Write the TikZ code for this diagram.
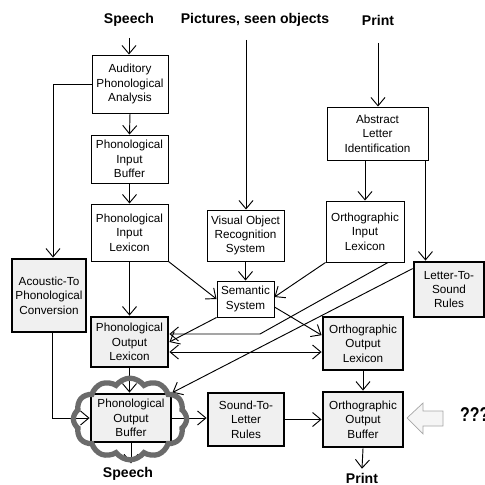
\documentclass[tikz,border=0pt]{standalone}
\usepackage{fontspec}
\setmainfont{Liberation Sans}
\usetikzlibrary{arrows.meta,shapes.symbols}

\tikzset{
  box/.style={draw, line width=0.8pt, fill=white, align=center, inner sep=1pt,
    font=\fontsize{10}{12.3}\selectfont},
  boldbox/.style={box, line width=2.4pt, fill=gray!12},
  lbl/.style={font=\bfseries\fontsize{12}{14}\selectfont},
  arr/.style={line width=0.8pt, -{Straight Barb[length=2.5mm,width=4.2mm]}},
  dblarr/.style={line width=0.8pt, {Straight Barb[length=2.5mm,width=4.2mm]}-{Straight Barb[length=2.5mm,width=4.2mm]}},
}

\begin{document}
\begin{tikzpicture}[x=0.03cm,y=-0.03cm]
    \useasboundingbox (0,0) rectangle (485,485);
    \clip (0,0) rectangle (485,485);
    % heading, cut off at the top edge
    \node[font=\bfseries\fontsize{36}{40}\selectfont, anchor=base west, inner sep=0] (head) at (381,-9) {g\hspace{2.04cm}p};
    % inputs
    \node[lbl] (sp1) at (129,20) {Speech};
    \node[lbl] (pic) at (255,20) {Pictures, seen objects};
    \node[lbl] (pr1) at (378,20) {Print};
    \coordinate (sp1s) at (129,38);
    \coordinate (pics) at (246,40);
    \coordinate (pr1s) at (378,43);
    % boxes
    \node[box, minimum width=2.28cm, minimum height=1.74cm] (aud) at (130,84) {Auditory\\Phonological\\Analysis};
    \node[box, minimum width=2.31cm, minimum height=1.44cm] (pib) at (129.5,159) {Phonological\\Input\\Buffer};
    \node[box, minimum width=2.31cm, minimum height=1.71cm] (pil) at (129.5,232.5) {Phonological\\Input\\Lexicon};
    \node[box, minimum width=2.31cm, minimum height=1.53cm] (vor) at (245.5,235.5) {Visual Object\\Recognition\\System};
    \node[box, minimum width=2.34cm, minimum height=1.83cm] (oil) at (365,231.5) {Orthographic\\Input\\Lexicon};
    \node[box, minimum width=3.03cm, minimum height=1.59cm] (ali) at (377.5,133.5) {Abstract\\Letter\\Identification};
    \node[box, minimum width=1.71cm, minimum height=1.08cm] (sem) at (245.5,299) {Semantic\\System};
    \node[boldbox, minimum width=2.22cm, minimum height=2.19cm] (acp) at (49,295.5) {Acoustic-To\\Phonological\\Conversion};
    \node[boldbox, minimum width=2.1cm, minimum height=1.65cm] (lts) at (449,289.5) {Letter-To-\\Sound\\Rules};
    \node[boldbox, minimum width=2.31cm, minimum height=1.5cm] (pol) at (129.5,342) {Phonological\\Output\\Lexicon};
    \node[boldbox, minimum width=2.4cm, minimum height=1.59cm] (ool) at (363,343.5) {Orthographic\\Output\\Lexicon};
    \node[boldbox, minimum width=2.4cm, minimum height=1.44cm] (pob) at (131,418) {Phonological\\Output\\Buffer};
    \node[boldbox, minimum width=2.28cm, minimum height=1.59cm] (stl) at (246,419.5) {Sound-To-\\Letter\\Rules};
    \node[boldbox, minimum width=2.4cm, minimum height=1.65cm] (oob) at (363,419.5) {Orthographic\\Output\\Buffer};
    % outputs
    \node[lbl] (sp2) at (128,474) {Speech};
    \node[lbl] (pr2) at (362,478) {Print};
    % connectors
    \draw[arr] (sp1s) -- (sp1s |- aud.north);
    \draw[arr] (pics) -- (pics |- vor.north);
    \draw[arr] (pr1s) -- (pr1s |- ali.north);
    \draw[arr] (aud.south) -- (pib.north);
    \draw[arr] (pib.south) -- (pil.north);
    \draw[arr] (pil.south) -- (pil.south |- pol.north);
    \draw[arr] (vor.south) -- (sem.north);
    \draw[arr] (ali.south -| oil.north) -- (oil.north);
    \draw[arr] ([xshift=-0.09cm]ali.south east) -- ([xshift=-0.09cm]ali.south east |- lts.north);
    \draw[arr] (aud.west) -| ([xshift=0.12cm]acp.north);
    \draw[arr] ([xshift=0.09cm]acp.south) |- (pob.west);
    \draw[arr] (pil.south east) -- (sem.west);
    \draw[arr] (oil.south west) -- ([yshift=0.06cm]sem.east);
    \coordinate (bend) at (260,334);
    \draw[arr] ([xshift=0.69cm]oil.south) -- (bend) -- (bend -| pol.east);
    \draw[arr] ([yshift=-0.24cm]lts.north west) -- (pob.north east);
    \draw[arr] (sem.south west) -- (pol.east);
    \draw[arr] ([yshift=-0.24cm]sem.east) -- ([yshift=0.25cm]ool.west);
    \draw[dblarr] ([yshift=-0.3cm]pol.east) -- ([yshift=-0.3cm]pol.east -| ool.west);
    \draw[arr] (pol.south) -- (pol.south |- pob.north);
    \draw[arr] (pob.east) -- (pob.east -| stl.west);
    \draw[arr] (stl.east) -- (stl.east -| oob.west);
    \draw[arr] (ool.south) -- (oob.north);
    \draw[arr] (oob.south) -- (pr2.north);
    \draw[arr] (pob.south) -- (pob.south |- sp2.north);
    % highlight and hint
    \node[cloud, draw=black!58, line width=4.5pt, cloud puffs=12, cloud puff arc=110,
      minimum width=3.4cm, minimum height=2.45cm] (cld) at (130,419) {};
    \draw[gray!70, fill=gray!8, line width=0.6pt] (407,418) -- (423,403) -- (423,411) -- (443,411)
      -- (443,426) -- (423,426) -- (423,434) -- cycle;
    \node[font=\bfseries\fontsize{17}{19}\selectfont, anchor=west, inner sep=0] (qq) at (460,415) {\scalebox{0.8}[1]{???}};
\end{tikzpicture}
\end{document}
